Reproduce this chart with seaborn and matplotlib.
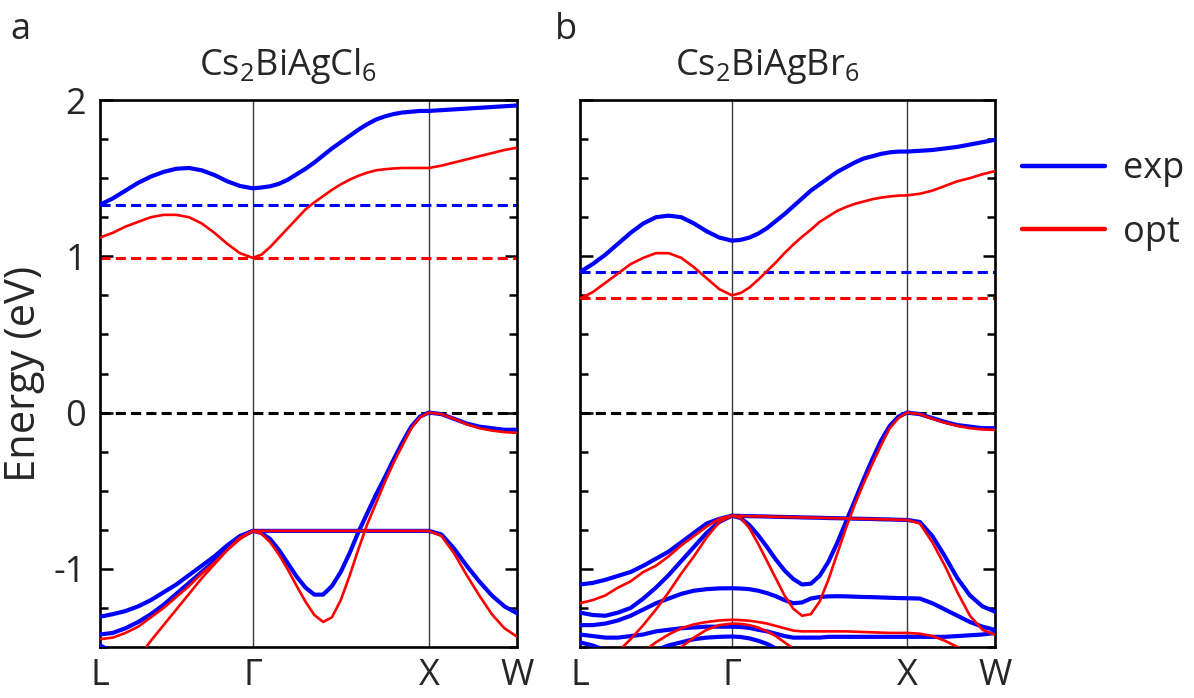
import numpy as np
import pandas as pd
import matplotlib
matplotlib.use("Agg")
import matplotlib.pyplot as plt
import seaborn as sns
from matplotlib.lines import Line2D
from matplotlib.ticker import MultipleLocator

sns.set_theme(style="white")
plt.rcParams['font.family'] = ['Open Sans', 'DejaVu Sans']
plt.rcParams['mathtext.fontset'] = 'custom'
plt.rcParams['mathtext.rm'] = 'Open Sans'
plt.rcParams['mathtext.it'] = 'Open Sans'
plt.rcParams['axes.unicode_minus'] = False

# ---------------- k-path ----------------
kpath_labels = ["L", "Γ", "X", "W"]
kpath_nodes = [0.0, 0.866, 1.866, 2.366]
n_seg = [12, 20, 7]          # samples per segment (L-Γ, Γ-X, X-W)

k_grid = []
for a, b, n in zip(kpath_nodes[:-1], kpath_nodes[1:], n_seg):
    seg = list(np.linspace(a, b, n + 1))
    k_grid.extend(seg if not k_grid else seg[1:])
k_grid = np.array(k_grid)

# ---------------- Cs2BiAgCl6 (panel a) ----------------
# each band: 13 values L->Γ, 20 values Γ->X, 7 values X->W
cl_exp_cb = [1.33, 1.37, 1.42, 1.47, 1.51, 1.54, 1.56, 1.565, 1.55, 1.52, 1.48, 1.45, 1.435,
             1.44, 1.448, 1.464, 1.49, 1.525, 1.56, 1.60, 1.645, 1.69, 1.73, 1.77, 1.81, 1.845, 1.875,
             1.895, 1.91, 1.92, 1.925, 1.93, 1.93,
             1.935, 1.94, 1.945, 1.95, 1.955, 1.96, 1.965]
cl_opt_cb = [1.12, 1.15, 1.19, 1.22, 1.25, 1.265, 1.265, 1.25, 1.21, 1.15, 1.08, 1.02, 0.99,
             1.01, 1.06, 1.12, 1.18, 1.24, 1.30, 1.345, 1.385, 1.425, 1.46, 1.49, 1.515, 1.535, 1.55,
             1.557, 1.562, 1.565, 1.565, 1.565, 1.565,
             1.58, 1.60, 1.62, 1.64, 1.66, 1.68, 1.695]
cl_exp_v1 = [-1.306, -1.29, -1.27, -1.24, -1.20, -1.15, -1.10, -1.04, -0.98, -0.92, -0.85, -0.79, -0.757,
             -0.77, -0.81, -0.88, -0.965, -1.05, -1.12, -1.165, -1.165, -1.11, -1.02, -0.90, -0.765, -0.645,
             -0.525, -0.415, -0.30, -0.19, -0.09, -0.025, 0.0,
             -0.01, -0.04, -0.07, -0.09, -0.10, -0.11, -0.11]
cl_exp_v2 = [-1.42, -1.41, -1.38, -1.34, -1.29, -1.23, -1.16, -1.09, -1.02, -0.95, -0.87, -0.80, -0.757,
             -0.757, -0.757, -0.757, -0.757, -0.757, -0.757, -0.757, -0.757, -0.757, -0.757, -0.757, -0.757,
             -0.757, -0.757, -0.757, -0.757, -0.757, -0.757, -0.757, -0.757,
             -0.78, -0.87, -0.98, -1.08, -1.17, -1.24, -1.284]
cl_exp_v3 = [-1.49, -1.53, -1.58, -1.65, -1.72, -1.80, -1.85, -1.90, -1.90, -1.90, -1.90, -1.90, -1.90,
             -1.90, -1.90, -1.90, -1.90, -1.90, -1.90, -1.90, -1.90, -1.90, -1.90, -1.90, -1.90,
             -1.90, -1.90, -1.90, -1.90, -1.90, -1.90, -1.90, -1.90,
             -1.90, -1.90, -1.90, -1.90, -1.90, -1.90, -1.90]
cl_opt_v1 = [-1.85, -1.80, -1.72, -1.57, -1.46, -1.36, -1.26, -1.16, -1.06, -0.97, -0.88, -0.80, -0.757,
             -0.775, -0.83, -0.91, -1.005, -1.11, -1.21, -1.295, -1.34, -1.31, -1.20, -1.045, -0.875, -0.715,
             -0.58, -0.445, -0.32, -0.21, -0.10, -0.03, 0.0,
             -0.01, -0.04, -0.075, -0.10, -0.115, -0.125, -0.13]
cl_opt_v2 = [-1.45, -1.44, -1.41, -1.37, -1.31, -1.25, -1.18, -1.11, -1.03, -0.96, -0.88, -0.81, -0.757,
             -0.757, -0.757, -0.757, -0.757, -0.757, -0.757, -0.757, -0.757, -0.757, -0.757, -0.757, -0.757,
             -0.757, -0.757, -0.757, -0.757, -0.757, -0.757, -0.757, -0.757,
             -0.79, -0.90, -1.04, -1.17, -1.29, -1.38, -1.434]

# ---------------- Cs2BiAgBr6 (panel b) ----------------
br_exp_cb = [0.90, 0.95, 1.01, 1.08, 1.15, 1.21, 1.25, 1.26, 1.25, 1.21, 1.16, 1.12, 1.10,
             1.105, 1.12, 1.145, 1.18, 1.225, 1.27, 1.32, 1.37, 1.42, 1.46, 1.50, 1.54, 1.57, 1.60,
             1.625, 1.64, 1.655, 1.665, 1.67, 1.67,
             1.675, 1.68, 1.69, 1.70, 1.715, 1.73, 1.745]
br_opt_cb = [0.73, 0.77, 0.83, 0.89, 0.95, 0.99, 1.02, 1.02, 0.99, 0.93, 0.86, 0.79, 0.75,
             0.765, 0.80, 0.85, 0.905, 0.96, 1.02, 1.075, 1.125, 1.17, 1.22, 1.255, 1.29, 1.315, 1.335,
             1.35, 1.365, 1.375, 1.383, 1.388, 1.39,
             1.40, 1.42, 1.45, 1.48, 1.50, 1.525, 1.545]
br_exp_v1 = [-1.28, -1.295, -1.30, -1.28, -1.25, -1.19, -1.12, -1.04, -0.95, -0.86, -0.77, -0.70, -0.66,
             -0.675, -0.72, -0.785, -0.86, -0.94, -1.01, -1.065, -1.10, -1.095, -1.045, -0.955, -0.835,
             -0.70, -0.565, -0.43, -0.30, -0.18, -0.085, -0.025, 0.0,
             -0.01, -0.035, -0.06, -0.08, -0.09, -0.10, -0.10]
br_exp_v2 = [-1.10, -1.09, -1.07, -1.045, -1.02, -0.98, -0.935, -0.89, -0.83, -0.77, -0.71, -0.68, -0.66,
             -0.661, -0.663, -0.664, -0.665, -0.667, -0.668, -0.669, -0.671, -0.672, -0.673, -0.675, -0.676,
             -0.677, -0.679, -0.680, -0.681, -0.683, -0.684, -0.686, -0.687,
             -0.70, -0.79, -0.92, -1.06, -1.17, -1.24, -1.274]
br_exp_v3 = [-1.36, -1.36, -1.35, -1.33, -1.30, -1.26, -1.22, -1.19, -1.16, -1.14, -1.13, -1.125, -1.124,
             -1.126, -1.13, -1.14, -1.155, -1.175, -1.20, -1.22, -1.215, -1.19, -1.18, -1.176, -1.175,
             -1.176, -1.178, -1.18, -1.181, -1.183, -1.185, -1.187, -1.188,
             -1.19, -1.22, -1.26, -1.30, -1.34, -1.37, -1.39]
br_exp_v4 = [-1.42, -1.43, -1.44, -1.44, -1.43, -1.42, -1.40, -1.39, -1.38, -1.375, -1.37, -1.37, -1.37,
             -1.372, -1.378, -1.39, -1.40, -1.415, -1.43, -1.44, -1.44, -1.44, -1.44, -1.435, -1.435,
             -1.435, -1.435, -1.435, -1.435, -1.435, -1.435, -1.435, -1.435,
             -1.435, -1.435, -1.435, -1.43, -1.425, -1.42, -1.41]
br_exp_v5 = [-1.47, -1.49, -1.52, -1.54, -1.55, -1.54, -1.52, -1.49, -1.47, -1.45, -1.44, -1.435, -1.433,
             -1.436, -1.445, -1.46, -1.48, -1.51, -1.54, -1.58, -1.62, -1.66, -1.70, -1.75, -1.80,
             -1.85, -1.90, -1.90, -1.90, -1.90, -1.90, -1.90, -1.90,
             -1.90, -1.90, -1.90, -1.90, -1.90, -1.90, -1.90]
br_opt_v1 = [-1.75, -1.68, -1.60, -1.53, -1.45, -1.36, -1.26, -1.15, -1.03, -0.92, -0.80, -0.70, -0.66,
             -0.675, -0.74, -0.84, -0.95, -1.06, -1.17, -1.255, -1.30, -1.29, -1.21, -1.07, -0.905, -0.74,
             -0.59, -0.455, -0.33, -0.21, -0.10, -0.035, 0.0,
             -0.01, -0.04, -0.065, -0.085, -0.10, -0.108, -0.111]
br_opt_v2 = [-1.22, -1.20, -1.17, -1.12, -1.08, -1.02, -0.98, -0.92, -0.85, -0.79, -0.73, -0.68, -0.66,
             -0.661, -0.663, -0.664, -0.665, -0.667, -0.668, -0.669, -0.671, -0.672, -0.673, -0.675, -0.676,
             -0.677, -0.679, -0.680, -0.681, -0.683, -0.684, -0.686, -0.687,
             -0.71, -0.83, -0.98, -1.15, -1.30, -1.39, -1.422]
br_opt_v3 = [-1.95, -1.85, -1.76, -1.68, -1.60, -1.53, -1.47, -1.42, -1.38, -1.355, -1.34, -1.33, -1.326,
             -1.328, -1.332, -1.34, -1.35, -1.365, -1.38, -1.395, -1.40, -1.40, -1.40, -1.40, -1.40,
             -1.40, -1.402, -1.404, -1.406, -1.408, -1.41, -1.41, -1.41,
             -1.415, -1.43, -1.46, -1.50, -1.55, -1.60, -1.65]
br_opt_v4 = [-1.95, -1.95, -1.95, -1.90, -1.82, -1.74, -1.66, -1.58, -1.50, -1.44, -1.39, -1.36, -1.35,
             -1.352, -1.36, -1.375, -1.40, -1.43, -1.47, -1.51, -1.56, -1.61, -1.67, -1.73, -1.80,
             -1.87, -1.95, -1.95, -1.95, -1.95, -1.95, -1.95, -1.95,
             -1.95, -1.95, -1.95, -1.95, -1.95, -1.95, -1.95]

titles = [r"Cs$_2$BiAgCl$_6$", r"Cs$_2$BiAgBr$_6$"]
panel_letters = ["a", "b"]
series_names = ["exp", "opt"]
series_colors = {"exp": "#0000ff", "opt": "#ff0000"}
series_widths = {"exp": 3.0, "opt": 1.9}

panels = [
    {"exp": [cl_exp_cb, cl_exp_v1, cl_exp_v2, cl_exp_v3], "opt": [cl_opt_cb, cl_opt_v1, cl_opt_v2]},
    {"exp": [br_exp_cb, br_exp_v1, br_exp_v2, br_exp_v3, br_exp_v4, br_exp_v5],
     "opt": [br_opt_cb, br_opt_v1, br_opt_v2, br_opt_v3, br_opt_v4]},
]


def to_frame(bands):
    frames = []
    for i, b in enumerate(bands):
        frames.append(pd.DataFrame({"k": k_grid, "E": b, "band": i}))
    return pd.concat(frames, ignore_index=True)


W, H = 1194, 698
fig = plt.figure(figsize=(W / 100, H / 100), dpi=100)
ax_pos = [(100, 517), (580, 995)]
letter_x = [10, 555]
top_px, bot_px = 100, 647

for p, (x0, x1) in enumerate(ax_pos):
    ax = fig.add_axes([x0 / W, 1 - bot_px / H, (x1 - x0) / W, (bot_px - top_px) / H])
    ax.axhline(0, color="black", lw=2.2, ls=(0, (3.3, 1.7)), zorder=2)
    for kv in kpath_nodes[1:-1]:
        ax.axvline(kv, color="#3a3a3a", lw=1.0, zorder=1)
    for s in series_names:
        df = to_frame(panels[p][s])
        sns.lineplot(data=df, x="k", y="E", units="band", estimator=None, sort=False,
                     color=series_colors[s], lw=series_widths[s], ax=ax, legend=False, zorder=3)
        cbm = min(panels[p][s][0])
        ax.axhline(cbm, color=series_colors[s], lw=2.2, ls=(0, (3.3, 1.7)), zorder=2)
    ax.set_xlim(kpath_nodes[0], kpath_nodes[-1])
    ax.set_ylim(-1.5, 2.0)
    ax.set_xticks(kpath_nodes, kpath_labels)
    ax.set_xlabel("")
    ax.set_ylabel("")
    ax.yaxis.set_major_locator(MultipleLocator(1))
    ax.yaxis.set_minor_locator(MultipleLocator(0.25))
    ax.tick_params(axis="x", length=0, pad=8, labelsize=26)
    ax.tick_params(axis="y", which="both", direction="in", left=True, right=True,
                   width=1.8, color="black", labelsize=26, pad=10)
    ax.tick_params(axis="y", which="major", length=9)
    ax.tick_params(axis="y", which="minor", length=6)
    if p == 1:
        ax.tick_params(axis="y", labelleft=False)
    else:
        ax.set_ylabel("Energy (eV)", fontsize=30, labelpad=6)
    for sp in ax.spines.values():
        sp.set_color("black")
        sp.set_linewidth(1.9)
    ax.text(0.45, 1.025, titles[p], transform=ax.transAxes, ha="center", va="bottom", fontsize=26)
    fig.text(letter_x[p] / W, 1 - 30 / H, panel_letters[p], ha="left", va="center", fontsize=26)

handles = [Line2D([], [], color=series_colors[s], lw=3.2) for s in series_names]
fig.legend(handles, series_names, loc="center left", bbox_to_anchor=(1022 / W, 1 - 201 / H),
           frameon=False, fontsize=26, handlelength=2.3, handletextpad=0.5, labelspacing=0.75,
           borderpad=0, borderaxespad=0)

fig.savefig("out.png", dpi=100)
